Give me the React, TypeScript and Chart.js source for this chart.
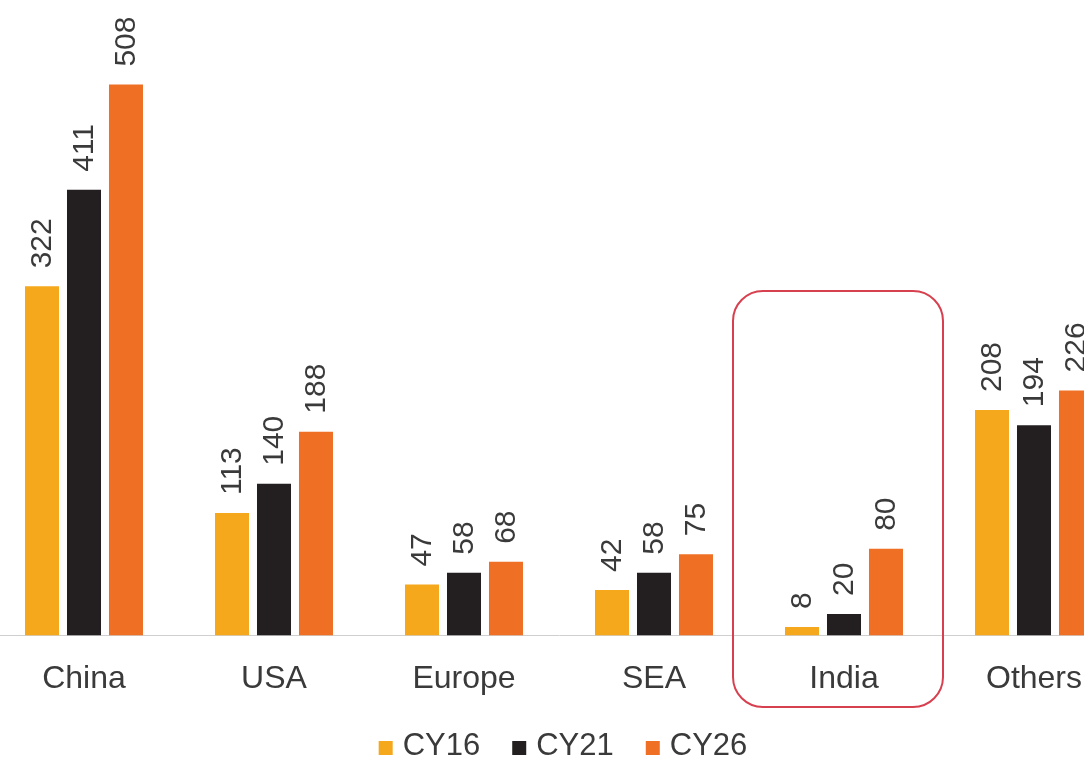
import React, { useEffect, useRef } from "react";
import { Chart, registerables } from "chart.js";

Chart.register(...registerables);

const categories = ["China", "USA", "Europe", "SEA", "India", "Others"];
const seriesNames = ["CY16", "CY21", "CY26"];
const cy16 = [322, 113, 47, 42, 8, 208];
const cy21 = [411, 140, 58, 58, 20, 194];
const cy26 = [508, 188, 68, 75, 80, 226];
const colors = ["#F6A81C", "#231F20", "#EF7024"];
const highlightCategory = "India";

const FONT = "'Liberation Sans', Arial, Helvetica, sans-serif";
const TEXT = "#3a3a3a";

const valueLabels = {
  id: "valueLabels",
  afterDatasetsDraw(chart: any) {
    const ctx = chart.ctx;
    ctx.save();
    ctx.font = `30px ${FONT}`;
    ctx.fillStyle = TEXT;
    ctx.textAlign = "left";
    ctx.textBaseline = "middle";
    chart.data.datasets.forEach((ds: any, i: number) => {
      const meta = chart.getDatasetMeta(i);
      meta.data.forEach((bar: any, j: number) => {
        ctx.save();
        ctx.translate(bar.x + 1, bar.y - 18);
        ctx.rotate(-Math.PI / 2);
        ctx.fillText(String(ds.data[j]), 0, 0);
        ctx.restore();
      });
    });
    ctx.restore();
  },
};

const highlightBox = {
  id: "highlightBox",
  afterDraw(chart: any) {
    const idx = categories.indexOf(highlightCategory);
    if (idx < 0) return;
    const xs = chart.scales.x;
    const cx = xs.getPixelForValue(idx) - 6;
    const half = 105;
    const top = 291;
    const bottom = 707;
    const r = 30;
    const ctx = chart.ctx;
    ctx.save();
    ctx.strokeStyle = "#D7404F";
    ctx.lineWidth = 2;
    ctx.beginPath();
    ctx.roundRect(cx - half, top, half * 2, bottom - top, r);
    ctx.stroke();
    ctx.restore();
  },
};

const bottomLegend = {
  id: "bottomLegend",
  afterDraw(chart: any) {
    const ctx = chart.ctx;
    const box = 14;
    const gapText = 10;
    const gapItem = 32;
    ctx.save();
    ctx.font = `31px ${FONT}`;
    ctx.textBaseline = "middle";
    ctx.textAlign = "left";
    const items = chart.data.datasets.map((ds: any) => ({
      label: ds.label,
      color: ds.backgroundColor,
      w: ctx.measureText(ds.label).width,
    }));
    const total =
      items.reduce((s: number, it: any) => s + box + gapText + it.w, 0) +
      gapItem * (items.length - 1);
    let x = chart.width / 2 + 4 - total / 2;
    const cy = 746;
    items.forEach((it: any) => {
      ctx.fillStyle = it.color;
      ctx.fillRect(x, cy - box / 2 + 2, box, box);
      x += box + gapText;
      ctx.fillStyle = TEXT;
      ctx.fillText(it.label, x, cy);
      x += it.w + gapItem;
    });
    ctx.restore();
  },
};

export default function App() {
  const ref = useRef<HTMLCanvasElement | null>(null);
  useEffect(() => {
    if (!ref.current) return;
    const data = [cy16, cy21, cy26];
    const chart = new Chart(ref.current, {
      type: "bar",
      data: {
        labels: categories,
        datasets: seriesNames.map((n, i) => ({
          label: n,
          data: data[i],
          backgroundColor: colors[i],
          borderWidth: 0,
          categoryPercentage: 0.663,
          barPercentage: 0.81,
        })),
      },
      options: {
        responsive: false,
        animation: false,
        layout: { padding: { top: 0, left: 0, right: 0, bottom: 51 } },
        plugins: {
          tooltip: { enabled: false },
          legend: { display: false },
        },
        scales: {
          x: {
            grid: { display: false },
            border: { display: true, color: "#cfcfcf", width: 1 },
            ticks: {
              font: { family: FONT, size: 32 },
              color: TEXT,
              padding: 16,
              maxRotation: 0,
            },
          },
          y: {
            display: false,
            min: 0,
            max: 586,
          },
        },
      },
      plugins: [valueLabels, highlightBox, bottomLegend],
    });
    return () => chart.destroy();
  }, []);
  return (
    <div
      style={{
        position: "fixed",
        left: 0,
        top: 0,
        width: 1084,
        height: 765,
        overflow: "hidden",
        background: "#fff",
      }}
    >
      <canvas
        ref={ref}
        width={1140}
        height={765}
        style={{ position: "absolute", left: -11, top: 0, width: 1140, height: 765 }}
      />
    </div>
  );
}
